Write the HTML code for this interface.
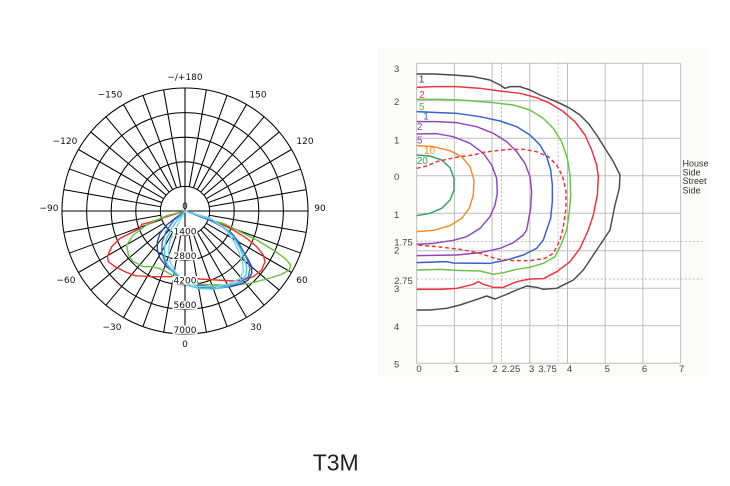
<!DOCTYPE html>
<html>
<head>
<meta charset="utf-8">
<style>
  html, body { margin:0; padding:0; background:#ffffff; }
  body { width:730px; height:486px; overflow:hidden; }
  svg { display:block; }
</style>
</head>
<body>
<svg width="730" height="486" viewBox="0 0 730 486" xmlns="http://www.w3.org/2000/svg">
  <rect x="0" y="0" width="730" height="486" fill="#ffffff"/>

  <!-- ================= POLAR CHART ================= -->
  <g transform="translate(185,211)" fill="none" stroke="#000" stroke-width="1.05">
    <circle r="24.6"/>
    <circle r="49.2"/>
    <circle r="73.8"/>
    <circle r="98.4"/>
    <circle r="123"/>
    <line x1="-123" y1="0" x2="123" y2="0"/>
    <line x1="0" y1="-123" x2="0" y2="123"/>
    <g>
      <line x1="0" y1="24.6" x2="0" y2="123" transform="rotate(10)"/>
      <line x1="0" y1="24.6" x2="0" y2="123" transform="rotate(20)"/>
      <line x1="0" y1="24.6" x2="0" y2="123" transform="rotate(30)"/>
      <line x1="0" y1="24.6" x2="0" y2="123" transform="rotate(40)"/>
      <line x1="0" y1="24.6" x2="0" y2="123" transform="rotate(50)"/>
      <line x1="0" y1="24.6" x2="0" y2="123" transform="rotate(60)"/>
      <line x1="0" y1="24.6" x2="0" y2="123" transform="rotate(70)"/>
      <line x1="0" y1="24.6" x2="0" y2="123" transform="rotate(80)"/>
      <line x1="0" y1="24.6" x2="0" y2="123" transform="rotate(100)"/>
      <line x1="0" y1="24.6" x2="0" y2="123" transform="rotate(110)"/>
      <line x1="0" y1="24.6" x2="0" y2="123" transform="rotate(120)"/>
      <line x1="0" y1="24.6" x2="0" y2="123" transform="rotate(130)"/>
      <line x1="0" y1="24.6" x2="0" y2="123" transform="rotate(140)"/>
      <line x1="0" y1="24.6" x2="0" y2="123" transform="rotate(150)"/>
      <line x1="0" y1="24.6" x2="0" y2="123" transform="rotate(160)"/>
      <line x1="0" y1="24.6" x2="0" y2="123" transform="rotate(170)"/>
      <line x1="0" y1="24.6" x2="0" y2="123" transform="rotate(190)"/>
      <line x1="0" y1="24.6" x2="0" y2="123" transform="rotate(200)"/>
      <line x1="0" y1="24.6" x2="0" y2="123" transform="rotate(210)"/>
      <line x1="0" y1="24.6" x2="0" y2="123" transform="rotate(220)"/>
      <line x1="0" y1="24.6" x2="0" y2="123" transform="rotate(230)"/>
      <line x1="0" y1="24.6" x2="0" y2="123" transform="rotate(240)"/>
      <line x1="0" y1="24.6" x2="0" y2="123" transform="rotate(250)"/>
      <line x1="0" y1="24.6" x2="0" y2="123" transform="rotate(260)"/>
      <line x1="0" y1="24.6" x2="0" y2="123" transform="rotate(280)"/>
      <line x1="0" y1="24.6" x2="0" y2="123" transform="rotate(290)"/>
      <line x1="0" y1="24.6" x2="0" y2="123" transform="rotate(300)"/>
      <line x1="0" y1="24.6" x2="0" y2="123" transform="rotate(310)"/>
      <line x1="0" y1="24.6" x2="0" y2="123" transform="rotate(320)"/>
      <line x1="0" y1="24.6" x2="0" y2="123" transform="rotate(330)"/>
      <line x1="0" y1="24.6" x2="0" y2="123" transform="rotate(340)"/>
      <line x1="0" y1="24.6" x2="0" y2="123" transform="rotate(350)"/>
    </g>
  </g>

  <!-- polar curves (coords in 3x space, origin 100,205) -->
  <g transform="translate(100,205) scale(0.33333)" fill="none" stroke-width="4.2" stroke-linejoin="round">
    <path stroke="#e8332c" d="M256,18 L200,35 L150,52 L125,58 L120,70 L90,85 L60,100 L35,125 L22,155 L25,170 L45,185 L75,200 L105,212 L160,215 L220,215 L260,218 L300,222 L350,225 L400,228 L430,225 L460,215 L485,195 L495,170 L490,150 L470,125 L440,100 L400,75 L360,55 L320,40 L280,25 Z"/>
    <path stroke="#6cbf45" d="M256,18 L200,32 L140,60 L100,90 L80,120 L85,150 L100,170 L130,185 L160,185 L190,195 L215,210 L235,225 L260,232 L300,238 L350,240 L400,240 L450,235 L500,222 L540,210 L568,195 L572,180 L555,160 L520,135 L470,105 L420,80 L370,55 L330,45 L290,30 Z"/>
    <path stroke="#2747a8" d="M256,18 L225,40 L200,60 L180,85 L172,110 L172,135 L180,160 L200,185 L225,205 L250,225 L280,240 L310,248 L350,250 L390,245 L420,238 L445,225 L455,205 L455,185 L445,165 L430,140 L415,110 L395,85 L360,60 L320,40 L280,25 Z"/>
    <path stroke="#3c6fd0" d="M256,18 L222,45 L198,80 L187,110 L185,140 L195,170 L215,195 L245,220 L280,238 L330,245 L380,242 L420,232 L445,215 L450,190 L440,160 L425,130 L405,100 L380,75 L340,50 Z"/>
    <path stroke="#4cc6dc" d="M256,18 L235,40 L215,70 L200,100 L193,130 L195,160 L205,185 L230,215 L260,240 L295,250 L340,252 L380,245 L420,230 L438,210 L440,185 L432,160 L420,130 L400,95 L370,65 L330,40 Z"/>
    <path stroke="#78d4e6" d="M256,18 L240,45 L224,78 L210,108 L205,140 L210,170 L225,200 L250,228 L290,244 L340,246 L385,238 L418,222 L430,200 L428,175 L418,145 L402,110 L380,78 L340,45 Z"/>
  </g>

  <!-- radial value labels with white background -->
  <g font-family="'DejaVu Sans', 'Liberation Sans', sans-serif" font-size="9" fill="#111" text-anchor="middle">
    <text x="185" y="209">0</text>
    <rect x="172.5" y="227" width="25" height="8.5" fill="#fff"/>
    <text x="185" y="234.4">1400</text>
    <rect x="172.5" y="251.6" width="25" height="8.5" fill="#fff"/>
    <text x="185" y="259">2800</text>
    <rect x="172.5" y="276.2" width="25" height="8.5" fill="#fff"/>
    <text x="185" y="283.6">4200</text>
    <rect x="172.5" y="300.8" width="25" height="8.5" fill="#fff"/>
    <text x="185" y="308.2">5600</text>
    <rect x="172.5" y="325.4" width="25" height="8.5" fill="#fff"/>
    <text x="185" y="332.8">7000</text>

    <text x="185" y="80.2">−/+180</text>
    <text x="258" y="97.7">150</text>
    <text x="305" y="144.2">120</text>
    <text x="320" y="211.2">90</text>
    <text x="302" y="283.2">60</text>
    <text x="256" y="330.2">30</text>
    <text x="185" y="347.2">0</text>
    <text x="112" y="330.2">−30</text>
    <text x="66" y="283.2">−60</text>
    <text x="49" y="211.2">−90</text>
    <text x="65" y="144.2">−120</text>
    <text x="110" y="97.7">−150</text>
  </g>

  <!-- ================= ISOLUX CHART ================= -->
  <rect x="377" y="47" width="330" height="330" fill="#fbfbfa"/>
  <rect x="416.7" y="63.3" width="264" height="300" fill="#ffffff"/>
  <g stroke="#bdbdbd" stroke-width="1" fill="none">
    <line x1="416.7" y1="63.3" x2="416.7" y2="363.3"/>
    <line x1="454.4" y1="63.3" x2="454.4" y2="363.3"/>
    <line x1="492.1" y1="63.3" x2="492.1" y2="363.3"/>
    <line x1="529.8" y1="63.3" x2="529.8" y2="363.3"/>
    <line x1="567.5" y1="63.3" x2="567.5" y2="363.3"/>
    <line x1="605.2" y1="63.3" x2="605.2" y2="363.3"/>
    <line x1="642.9" y1="63.3" x2="642.9" y2="363.3"/>
    <line x1="680.6" y1="63.3" x2="680.6" y2="363.3"/>
    <line x1="416.7" y1="63.3" x2="680.6" y2="63.3"/>
    <line x1="416.7" y1="100.8" x2="680.6" y2="100.8"/>
    <line x1="416.7" y1="138.3" x2="680.6" y2="138.3"/>
    <line x1="416.7" y1="175.8" x2="680.6" y2="175.8"/>
    <line x1="416.7" y1="213.3" x2="680.6" y2="213.3"/>
    <line x1="416.7" y1="250.8" x2="680.6" y2="250.8"/>
    <line x1="416.7" y1="288.3" x2="680.6" y2="288.3"/>
    <line x1="416.7" y1="325.8" x2="680.6" y2="325.8"/>
    <line x1="416.7" y1="363.3" x2="680.6" y2="363.3"/>
  </g>
  <g stroke="#b4b4b4" stroke-width="0.9" stroke-dasharray="2,2" fill="none">
    <line x1="501.5" y1="63.3" x2="501.5" y2="363.3"/>
    <line x1="558.1" y1="63.3" x2="558.1" y2="363.3"/>
    <line x1="416.7" y1="241.4" x2="702" y2="241.4"/>
    <line x1="416.7" y1="279" x2="702" y2="279"/>
  </g>

  <!-- isolux curves (coords in 3x space, origin 380,55) -->
  <g transform="translate(380,55) scale(0.33333)" fill="none" stroke-width="4.4" stroke-linejoin="round">
    <path stroke="#4a4a4a" d="M110,57 L160,57 L220,60 L280,65 L330,75 L360,90 L375,100 L390,95 L420,95 L450,105 L480,120 L510,132 L540,145 L570,160 L600,180 L625,205 L650,240 L675,280 L700,320 L720,360 L718,400 L705,450 L690,525 L670,555 L650,585 L610,645 L580,675 L560,685 L530,700 L490,703 L470,697 L440,693 L410,705 L375,720 L345,732 L320,723 L300,730 L270,740 L240,750 L200,760 L150,765 L110,765"/>
    <path stroke="#e8353f" d="M110,97 L160,95 L230,95 L300,100 L360,108 L420,115 L470,128 L510,145 L550,170 L585,200 L615,240 L635,285 L650,330 L655,365 L652,420 L640,480 L625,525 L600,580 L570,620 L530,650 L490,671 L450,672 L410,680 L370,697 L340,697 L310,688 L295,680 L280,688 L230,700 L180,703 L110,703"/>
    <path stroke="#6cc24a" d="M110,133 L180,133 L240,135 L330,142 L400,150 L450,165 L490,190 L520,220 L545,260 L562,310 L570,360 L572,420 L568,470 L560,525 L545,565 L525,605 L490,625 L450,637 L410,643 L370,653 L340,658 L300,648 L230,646 L180,643 L110,645"/>
    <path stroke="#3a5fc8" d="M110,170 L160,172 L230,175 L300,185 L360,198 L410,215 L450,240 L480,270 L500,305 L512,345 L517,390 L517,440 L512,490 L500,525 L490,555 L470,580 L430,600 L380,615 L330,625 L220,624 L200,620 L110,623"/>
    <path stroke="#9048b4" d="M110,200 L170,200 L230,203 L290,215 L340,235 L380,260 L410,290 L435,325 L450,365 L455,410 L452,460 L440,525 L430,540 L400,563 L360,580 L300,593 L230,600 L110,602"/>
    <path stroke="#9048b4" d="M110,237 L170,236 L220,245 L270,265 L310,295 L335,330 L350,370 L352,415 L345,450 L330,485 L300,520 L260,545 L220,556 L160,565 L110,568"/>
    <path stroke="#f08c2c" d="M110,272 L160,275 L210,287 L245,305 L270,335 L282,375 L280,420 L268,460 L245,490 L210,512 L160,526 L110,530"/>
    <path stroke="#3aa060" d="M110,300 L150,303 L185,315 L210,338 L222,370 L222,405 L210,435 L185,460 L150,475 L110,482"/>
    <path stroke="#e8353f" stroke-dasharray="12,8" d="M110,340 L140,333 L170,320 L200,313 L240,305 L280,300 L310,292 L350,287 L390,283 L430,283 L470,290 L505,305 L530,330 L548,365 L558,410 L558,460 L550,515 L540,555 L520,595 L495,610 L450,617 L400,617 L350,612 L300,595 L240,583 L170,575 L110,570"/>
  </g>

  <!-- contour labels -->
  <g font-family="'Liberation Sans', Arial, sans-serif" font-size="10" text-anchor="middle">
    <text x="421.7" y="82.5" fill="#333">1</text>
    <text x="422" y="97.8" fill="#e8353f">2</text>
    <text x="421.7" y="110" fill="#5cb040">5</text>
    <text x="426" y="119.5" fill="#3a5fc8">1</text>
    <text x="419.6" y="130" fill="#9048b4">2</text>
    <text x="419.6" y="143.5" fill="#9048b4">5</text>
    <text x="429.5" y="153.8" fill="#f08c2c">10</text>
    <text x="422.3" y="163.8" fill="#3aa060">20</text>
  </g>

  <!-- axis labels -->
  <g font-family="'Liberation Sans', Arial, sans-serif" font-size="9.5" fill="#444" text-anchor="middle">
    <text x="396.7" y="71.8">3</text>
    <text x="396.7" y="105">2</text>
    <text x="396.7" y="143.5">1</text>
    <text x="396.7" y="180">0</text>
    <text x="396.7" y="217.8">1</text>
    <text x="403.5" y="245.5">1.75</text>
    <text x="396.7" y="253.5">2</text>
    <text x="403.5" y="284">2.75</text>
    <text x="396.7" y="291.8">3</text>
    <text x="396.7" y="330">4</text>
    <text x="396.7" y="367.5">5</text>

    <text x="419" y="371.8">0</text>
    <text x="456.7" y="371.8">1</text>
    <text x="495" y="371.8">2</text>
    <text x="511" y="371.8">2.25</text>
    <text x="531.7" y="371.8">3</text>
    <text x="547.5" y="371.8">3.75</text>
    <text x="569.5" y="371.8">4</text>
    <text x="607.3" y="371.8">5</text>
    <text x="644.5" y="371.8">6</text>
    <text x="681.7" y="371.8">7</text>
  </g>

  <g font-family="'Liberation Sans', Arial, sans-serif" font-size="9" fill="#333">
    <text x="682.5" y="166.3">House</text>
    <text x="682.5" y="175.5">Side</text>
    <text x="682.5" y="184">Street</text>
    <text x="682.5" y="193.3">Side</text>
  </g>

  <text x="312.7" y="470.5" font-family="'Liberation Sans', Arial, sans-serif" font-size="23" fill="#231f20">T3M</text>
</svg>
</body>
</html>
